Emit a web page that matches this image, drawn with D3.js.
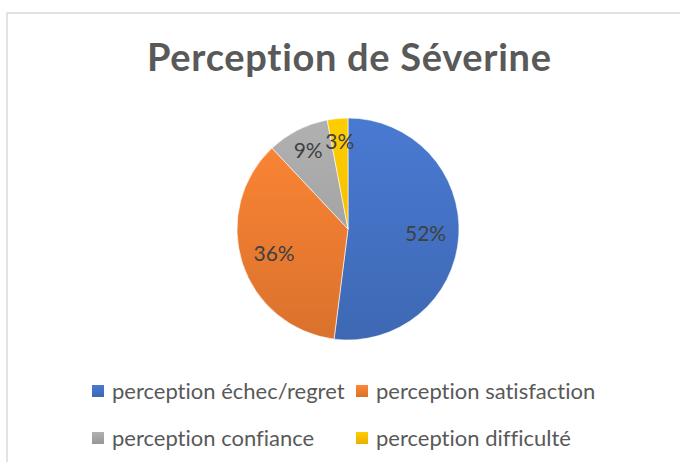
<!DOCTYPE html>
<html>
<head>
<meta charset="utf-8">
<title>Perception de Séverine</title>
<script src="https://d3js.org/d3.v7.min.js"></script>
<style>
  body { margin: 0; background: #fff; }
  text { font-family: Lato, "Open Sans", sans-serif; font-variant-ligatures: none; font-feature-settings: "liga" 0, "clig" 0; }
</style>
</head>
<body>
<div id="chart"></div>
<script>
// data
var title = "Perception de Séverine"
var categories = ["perception échec/regret", "perception satisfaction", "perception confiance", "perception difficulté"]
var values = [52, 36, 9, 3]
var colors = ["#4472C4", "#ED7D31", "#A5A5A5", "#FFC000"]

var width = 680, height = 462
var cx = 348, cy = 229, radius = 111

var svg = d3.select("#chart").append("svg")
    .attr("width", width)
    .attr("height", height)

// chart border (runs off the right and bottom)
svg.append("rect")
    .attr("x", 7).attr("y", 13)
    .attr("width", 700).attr("height", 480)
    .attr("fill", "none")
    .attr("stroke", "#d9d9d9")
    .attr("stroke-width", 1.5)

svg.append("text")
    .attr("x", 349).attr("y", 71)
    .attr("text-anchor", "middle")
    .attr("textLength", 404)
    .attr("lengthAdjust", "spacing")
    .style("font-size", "38px")
    .style("font-weight", "bold")
    .style("fill", "#595959")
    .text(title)

var defs = svg.append("defs")
colors.forEach(function(c, i) {
    var g = defs.append("linearGradient")
        .attr("id", "grad" + i)
        .attr("gradientUnits", "userSpaceOnUse")
        .attr("x1", 0).attr("y1", -radius)
        .attr("x2", 0).attr("y2", radius)
    g.append("stop").attr("offset", "0%").attr("stop-color", d3.color(c).brighter(0.2))
    g.append("stop").attr("offset", "100%").attr("stop-color", d3.color(c).darker(0.25))
})

var pie = d3.pie().sort(null).value(function(d) { return d })
var arcs = pie(values)
var arc = d3.arc().innerRadius(0).outerRadius(radius)

var g = svg.append("g").attr("transform", "translate(" + cx + "," + cy + ")")

g.selectAll("path.slice")
    .data(arcs)
    .enter().append("path")
    .attr("class", "slice")
    .attr("d", arc)
    .attr("fill", function(d, i) { return "url(#grad" + i + ")" })
    .attr("stroke", "#fff")
    .attr("stroke-width", 0.6)

var total = d3.sum(values)
g.selectAll("text.lbl")
    .data(arcs)
    .enter().append("text")
    .attr("class", "lbl")
    .attr("transform", function(d) {
        var share = d.value / total
        var r = share > 0.2 ? radius * 0.7 : radius * 0.79
        var a = (d.startAngle + d.endAngle) / 2
        return "translate(" + (Math.sin(a) * r) + "," + (-Math.cos(a) * r) + ")"
    })
    .attr("text-anchor", "middle")
    .attr("dy", "0.36em")
    .style("font-size", "21px")
    .style("fill", "#404040")
    .text(function(d) { return Math.round(d.value / total * 100) + "%" })

// legend, two columns
var legX = [92, 356], legY = [391, 438]
var leg = svg.selectAll("g.leg")
    .data(categories)
    .enter().append("g")
    .attr("class", "leg")
    .attr("transform", function(d, i) {
        return "translate(" + legX[i % 2] + "," + legY[Math.floor(i / 2)] + ")"
    })

leg.each(function(d, i) {
    var lg = defs.append("linearGradient").attr("id", "lg" + i)
        .attr("x1", 0).attr("y1", 0).attr("x2", 0).attr("y2", 1)
    lg.append("stop").attr("offset", "0%").attr("stop-color", d3.color(colors[i]).brighter(0.2))
    lg.append("stop").attr("offset", "100%").attr("stop-color", d3.color(colors[i]).darker(0.25))
})

leg.append("rect")
    .attr("x", 0).attr("y", -6)
    .attr("width", 12).attr("height", 12)
    .attr("fill", function(d, i) { return "url(#lg" + i + ")" })

leg.append("text")
    .attr("x", 20).attr("dy", "0.35em")
    .style("font-size", "22px")
    .style("fill", "#595959")
    .text(function(d) { return d })
</script>
</body>
</html>
